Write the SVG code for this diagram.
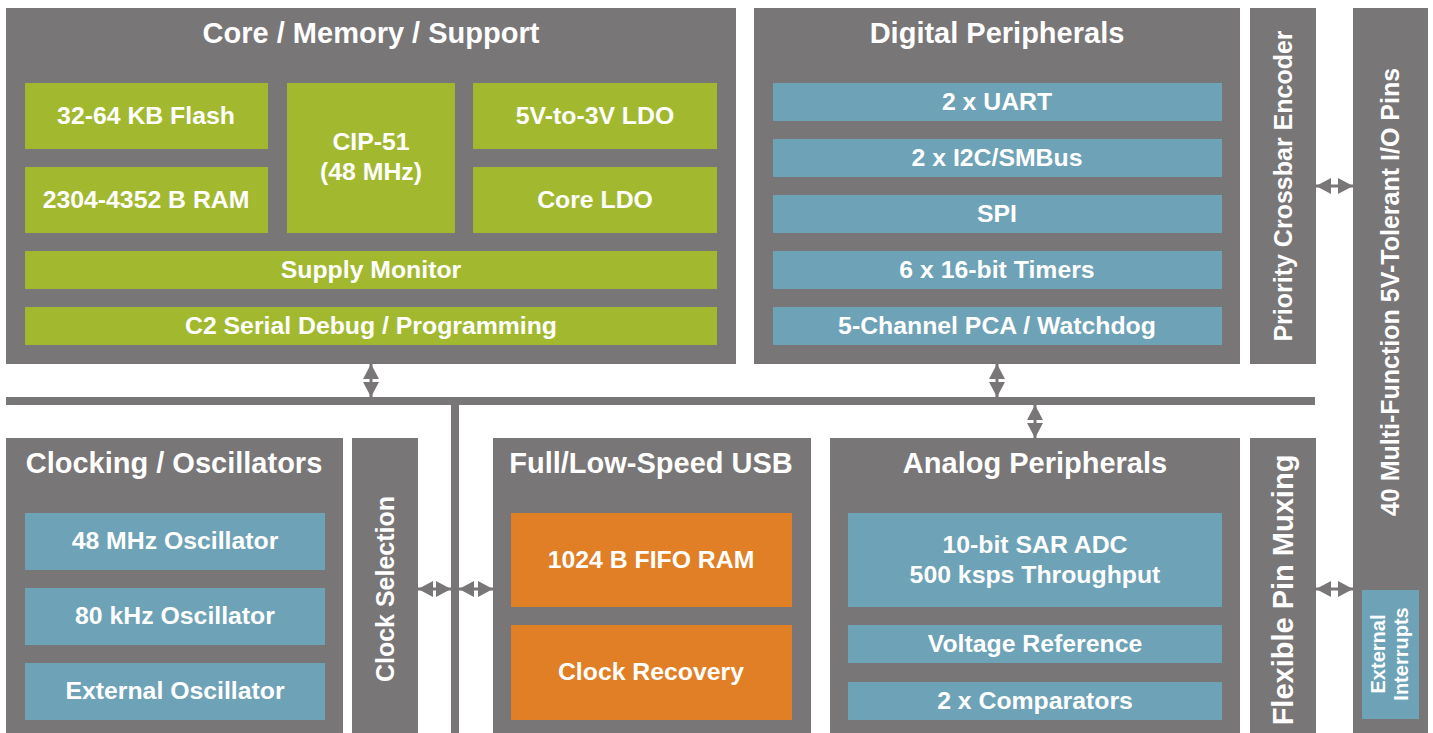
<svg xmlns="http://www.w3.org/2000/svg" width="1433" height="733" viewBox="0 0 1433 733">
<defs>
<style>
.box{fill:#797677}
.g{fill:#a2b92f}
.b{fill:#6da2b7}
.o{fill:#e07f25}
text{font-family:"Liberation Sans",Arial,sans-serif;font-weight:bold;fill:#fff;text-anchor:middle}
.t{font-size:29px}
.i{font-size:24.8px}
.v{font-size:25px}
.s{font-size:20px}
.ln{stroke:#797677;stroke-width:3;fill:none;marker-start:url(#ah);marker-end:url(#ah)}
</style>
<marker id="ah" viewBox="0 0 15 16" refX="15" refY="8" markerWidth="15" markerHeight="16" markerUnits="userSpaceOnUse" orient="auto-start-reverse">
<path d="M0,0 L15,8 L0,16 z" fill="#797677"/>
</marker>
</defs>
<rect width="1433" height="733" fill="#fff"/>

<g id="core">
<rect class="box" x="6" y="8" width="730" height="356"/>
<text class="t" x="371" y="43">Core / Memory / Support</text>
<rect class="g" x="25" y="83" width="243" height="66"/>
<text class="i" x="146" y="124">32-64 KB Flash</text>
<rect class="g" x="25" y="167" width="243" height="66"/>
<text class="i" x="146" y="208">2304-4352 B RAM</text>
<rect class="g" x="287" y="83" width="168" height="150"/>
<text class="i" x="371" y="150">CIP-51</text>
<text class="i" x="371" y="180">(48 MHz)</text>
<rect class="g" x="473" y="83" width="244" height="66"/>
<text class="i" x="595" y="124">5V-to-3V LDO</text>
<rect class="g" x="473" y="167" width="244" height="66"/>
<text class="i" x="595" y="208">Core LDO</text>
<rect class="g" x="25" y="251" width="692" height="38"/>
<text class="i" x="371" y="278">Supply Monitor</text>
<rect class="g" x="25" y="307" width="692" height="38"/>
<text class="i" x="371" y="334">C2 Serial Debug / Programming</text>
</g>

<g id="digital">
<rect class="box" x="754" y="8" width="486" height="356"/>
<text class="t" x="997" y="43">Digital Peripherals</text>
<rect class="b" x="773" y="83" width="449" height="38"/>
<text class="i" x="997" y="110">2 x UART</text>
<rect class="b" x="773" y="139" width="449" height="38"/>
<text class="i" x="997" y="166">2 x I2C/SMBus</text>
<rect class="b" x="773" y="195" width="449" height="38"/>
<text class="i" x="997" y="222">SPI</text>
<rect class="b" x="773" y="251" width="449" height="38"/>
<text class="i" x="997" y="278">6 x 16-bit Timers</text>
<rect class="b" x="773" y="307" width="449" height="38"/>
<text class="i" x="997" y="334">5-Channel PCA / Watchdog</text>
</g>

<g id="crossbar">
<rect class="box" x="1250" y="8" width="66" height="356"/>
<text class="v" transform="translate(1283,186) rotate(-90)" x="0" y="9">Priority Crossbar Encoder</text>
</g>

<g id="iopins">
<rect class="box" x="1353" y="8" width="75" height="725"/>
<text class="v" transform="translate(1390,292) rotate(-90)" x="0" y="9">40 Multi-Function 5V-Tolerant I/O Pins</text>
<rect class="b" x="1362" y="590" width="57" height="129"/>
<text class="s" transform="translate(1385,654) rotate(-90)" x="0" y="0">External</text>
<text class="s" transform="translate(1408,654) rotate(-90)" x="0" y="0">Interrupts</text>
</g>

<g id="clocking">
<rect class="box" x="6" y="438" width="337" height="295"/>
<text class="t" x="174" y="473">Clocking / Oscillators</text>
<rect class="b" x="25" y="513" width="300" height="57"/>
<text class="i" x="175" y="549">48 MHz Oscillator</text>
<rect class="b" x="25" y="588" width="300" height="57"/>
<text class="i" x="175" y="624">80 kHz Oscillator</text>
<rect class="b" x="25" y="663" width="300" height="57"/>
<text class="i" x="175" y="699">External Oscillator</text>
</g>

<g id="clocksel">
<rect class="box" x="352" y="438" width="66" height="295"/>
<text class="v" transform="translate(385,589) rotate(-90)" x="0" y="9">Clock Selection</text>
</g>

<g id="usb">
<rect class="box" x="493" y="438" width="318" height="295"/>
<text class="t" x="651" y="473">Full/Low-Speed USB</text>
<rect class="o" x="511" y="513" width="281" height="94"/>
<text class="i" x="651" y="568">1024 B FIFO RAM</text>
<rect class="o" x="511" y="625" width="281" height="95"/>
<text class="i" x="651" y="680">Clock Recovery</text>
</g>

<g id="analog">
<rect class="box" x="830" y="438" width="410" height="295"/>
<text class="t" x="1035" y="473">Analog Peripherals</text>
<rect class="b" x="848" y="513" width="374" height="94"/>
<text class="i" x="1035" y="553">10-bit SAR ADC</text>
<text class="i" x="1035" y="583">500 ksps Throughput</text>
<rect class="b" x="848" y="625" width="374" height="38"/>
<text class="i" x="1035" y="652">Voltage Reference</text>
<rect class="b" x="848" y="682" width="374" height="38"/>
<text class="i" x="1035" y="709">2 x Comparators</text>
</g>

<g id="pinmux">
<rect class="box" x="1250" y="438" width="66" height="295"/>
<text class="t" transform="translate(1283,590) rotate(-90)" x="0" y="10">Flexible Pin Muxing</text>
</g>

<g id="connectors">
<rect class="box" x="6" y="397" width="1309" height="8"/>
<rect class="box" x="451" y="397" width="8" height="336"/>
<path class="ln" d="M371,364 L371,397"/>
<path class="ln" d="M997,364 L997,397"/>
<path class="ln" d="M1035,405 L1035,438"/>
<path class="ln" d="M1316,186 L1353,186"/>
<path class="ln" d="M1316,589 L1353,589"/>
<path class="ln" d="M418,589 L451,589"/>
<path class="ln" d="M459,589 L493,589"/>
</g>
</svg>
